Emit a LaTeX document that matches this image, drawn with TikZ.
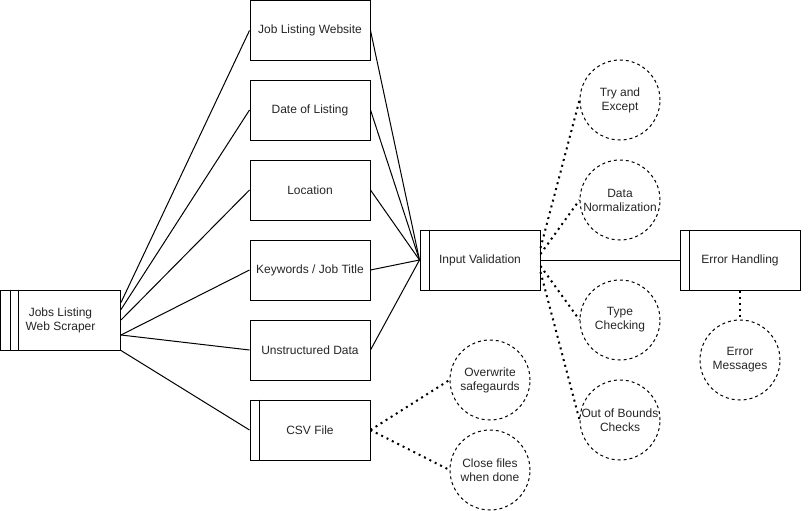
\documentclass[tikz,border=0pt]{standalone}
\usepackage{fontspec}
\setmainfont{Liberation Sans}
\usetikzlibrary{calc}
\begin{document}
\begin{tikzpicture}[x=1pt,y=-1pt,
  every node/.style={font=\fontsize{12}{14}\selectfont, text=black!85},
  box/.style={draw, line width=1pt, rectangle, minimum width=120pt, minimum height=60pt, inner sep=0pt, align=center},
  circ/.style={draw, line width=1pt, circle, dash pattern=on 3pt off 3pt, minimum size=80pt, inner sep=0pt, align=center},
  conn/.style={line width=1pt},
  dotline/.style={line width=2pt, dash pattern=on 2pt off 4pt}]
\useasboundingbox (0,0) rectangle (811,511);
\fill[white] (0,0) rectangle (811,511);

% scraper
\node[box] (s) at (60.5,320) {Jobs Listing\\Web Scraper};
\draw[conn] ([xshift=10pt]s.north west) -- ([xshift=10pt]s.south west);
\draw[conn] ([xshift=18pt]s.north west) -- ([xshift=18pt]s.south west);

% middle column
\node[box] (jw) at (310,30.5) {Job Listing Website};
\node[box] (dl) at (310,110) {Date of Listing};
\node[box] (lo) at (310,190) {Location};
\node[box] (kw) at (310,270) {Keywords / Job Title};
\node[box] (ud) at (310,350) {Unstructured Data};
\node[box] (csv) at (310,430) {CSV File};
\draw[conn] ([xshift=10pt]csv.north west) -- ([xshift=10pt]csv.south west);

% input validation
\node[box] (iv) at (480,260) {Input Validation};
\draw[conn] ([xshift=10pt]iv.north west) -- ([xshift=10pt]iv.south west);

% error handling
\node[box] (eh) at (740,260) {Error Handling};
\draw[conn] ([xshift=10pt]eh.north west) -- ([xshift=10pt]eh.south west);

% circles
\node[circ] (te) at (620,100) {Try and\\Except};
\node[circ] (dn) at (620,200) {Data\\Normalization};
\node[circ] (tc) at (620,320) {Type\\Checking};
\node[circ] (ob) at (620,420) {Out of Bounds\\Checks};
\node[circ] (em) at (740,360) {Error\\Messages};
\node[circ] (ow) at (490,380) {Overwrite\\safegaurds};
\node[circ] (cf) at (490,470) {Close files\\when done};

% scraper connectors
\draw[conn] ([yshift=-13pt]s.north east) -- (jw.west);
\draw[conn] ([yshift=-20pt]s.north east) -- (dl.west);
\draw[conn] (s.east) -- (lo.west);
\draw[conn] ([yshift=-15pt]s.east) -- (kw.west);
\draw[conn] ([yshift=-15pt]s.east) -- (ud.west);
\draw[conn] (s.south east) -- (csv.west);

% to input validation
\foreach \n in {jw,dl,lo,kw,ud}{
  \draw[conn] (\n.east) -- (iv.west);
}

% input validation outputs
\draw[conn] (iv.east) -- (eh.west);
\draw[dotline] ([yshift=12pt]iv.east) -- (te.west);
\draw[dotline] ([yshift=6pt]iv.east) -- (dn.west);
\draw[dotline] ([yshift=-6pt]iv.east) -- (tc.west);
\draw[dotline] ([yshift=-12pt]iv.east) -- (ob.west);

\draw[dotline] (eh.south) -- (em.north);
\draw[dotline] (csv.east) -- (ow.west);
\draw[dotline] (csv.east) -- (cf.west);
\end{tikzpicture}
\end{document}
